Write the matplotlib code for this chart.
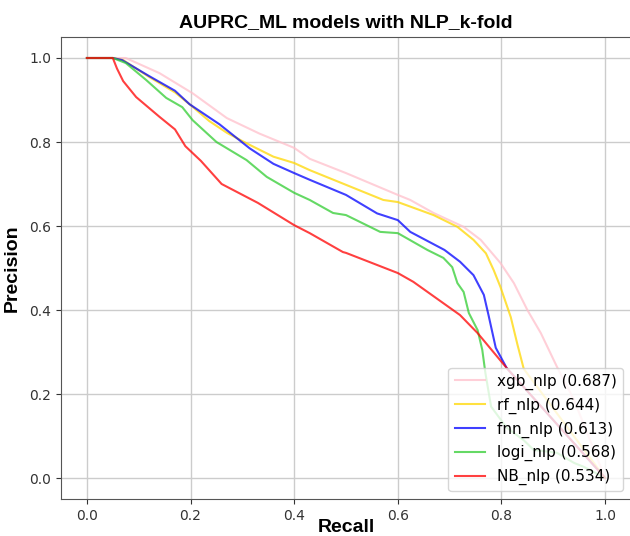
import matplotlib.pyplot as plt

# recall / precision points
xgb_r = [0.0, 0.05, 0.075, 0.14, 0.204, 0.27, 0.333, 0.4, 0.43, 0.5, 0.6, 0.624, 0.669, 0.727, 0.76,
         0.798, 0.824, 0.85, 0.876, 0.907, 0.94, 1.0]
xgb_p = [1.0, 1.0, 1.0, 0.964, 0.916, 0.857, 0.82, 0.786, 0.76, 0.726, 0.674, 0.662, 0.631, 0.598, 0.567,
         0.512, 0.464, 0.40, 0.345, 0.265, 0.186, 0.0]

rf_r = [0.0, 0.05, 0.07, 0.12, 0.17, 0.2, 0.236, 0.27, 0.308, 0.36, 0.4, 0.43, 0.5, 0.572, 0.6, 0.669,
        0.715, 0.746, 0.77, 0.785, 0.798, 0.818, 0.831, 0.843, 1.0]
rf_p = [1.0, 1.0, 0.995, 0.955, 0.918, 0.888, 0.85, 0.822, 0.797, 0.765, 0.75, 0.733, 0.698, 0.662, 0.657,
        0.626, 0.598, 0.567, 0.535, 0.495, 0.455, 0.383, 0.317, 0.26, 0.0]

fnn_r = [0.0, 0.05, 0.068, 0.12, 0.17, 0.198, 0.256, 0.314, 0.36, 0.4, 0.43, 0.5, 0.56, 0.6, 0.624, 0.69,
         0.72, 0.746, 0.766, 0.775, 0.789, 0.81, 1.0]
fnn_p = [1.0, 1.0, 0.995, 0.957, 0.922, 0.89, 0.842, 0.785, 0.748, 0.726, 0.71, 0.674, 0.63, 0.614, 0.586, 0.543,
         0.515, 0.483, 0.436, 0.388, 0.31, 0.262, 0.0]

logi_r = [0.0, 0.05, 0.075, 0.114, 0.153, 0.184, 0.204, 0.25, 0.308, 0.347, 0.4, 0.43, 0.475, 0.5, 0.566,
          0.6, 0.657, 0.688, 0.705, 0.715, 0.727, 0.737, 0.754, 0.763, 0.769, 0.78, 0.81, 0.843, 0.862,
          0.907, 0.94, 0.96, 1.0]
logi_p = [1.0, 1.0, 0.988, 0.948, 0.905, 0.883, 0.852, 0.80, 0.757, 0.717, 0.679, 0.662, 0.631, 0.626, 0.586,
          0.583, 0.543, 0.524, 0.502, 0.464, 0.443, 0.393, 0.352, 0.305, 0.25, 0.17, 0.12, 0.09, 0.067,
          0.06, 0.036, 0.026, 0.0]

nb_r = [0.0, 0.05, 0.058, 0.07, 0.095, 0.14, 0.17, 0.19, 0.22, 0.26, 0.33, 0.4, 0.43, 0.494, 0.5, 0.6, 0.63,
        0.72, 0.754, 0.81, 1.0]
nb_p = [1.0, 1.0, 0.975, 0.945, 0.907, 0.86, 0.83, 0.79, 0.755, 0.70, 0.655, 0.602, 0.583, 0.538, 0.536,
        0.488, 0.467, 0.388, 0.345, 0.262, 0.0]

names = ["xgb_nlp", "rf_nlp", "fnn_nlp", "logi_nlp", "NB_nlp"]
scores = [0.687, 0.644, 0.613, 0.568, 0.534]
colors = ["pink", "gold", "blue", "limegreen", "red"]

fig = plt.figure(figsize=(6.3, 5.36), dpi=100)
ax = fig.add_axes([61 / 630, 1 - 499 / 536, 570 / 630, 462 / 536])

curves = [(xgb_r, xgb_p), (rf_r, rf_p), (fnn_r, fnn_p), (logi_r, logi_p), (nb_r, nb_p)]
for (r, p), n, s, c in zip(curves, names, scores, colors):
    ax.plot(r, p, color=c, lw=1.5, alpha=0.75, label="%s (%.3f)" % (n, s))

ax.set_xlim(-0.05, 1.05)
ax.set_ylim(-0.05, 1.05)
ax.grid(True, color="#cccccc", lw=1)
ax.tick_params(labelsize=10, labelcolor="#333333", colors="#333333")
for sp in ax.spines.values():
    sp.set_color("#555555")

bold = dict(family=["Liberation Sans", "DejaVu Sans"], weight="bold", fontsize=14)
ax.set_title("AUPRC_ML models with NLP_k-fold", pad=7, **bold)
ax.set_xlabel("Recall", labelpad=-3, **bold)
ax.set_ylabel("Precision", labelpad=6, **bold)
ax.legend(loc="lower right", fontsize=11)

fig.savefig("out.png", dpi=100)
